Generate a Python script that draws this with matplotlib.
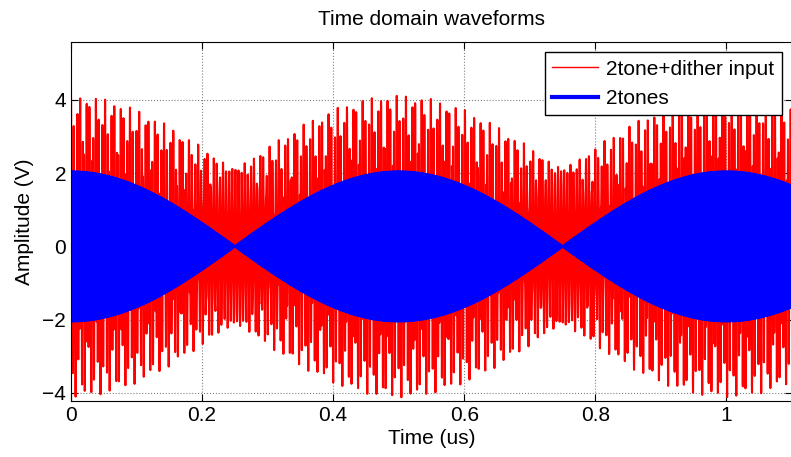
import numpy as np
import matplotlib.pyplot as plt

plt.rcParams['font.family'] = ['Liberation Sans', 'DejaVu Sans']

# signal parameters (time in us, freq in MHz)
T_END = 1.1
FS = 6000.0           # samples per us
F1, F2 = 499.0, 501.0 # two tones -> 2 MHz beat, nulls at 0.25 / 0.75 us
TONE_AMP = 1.02
DITHER_AMP = 2.08
DITHER_F = 211.3

t = np.arange(0, T_END, 1 / FS)
tones = TONE_AMP * (np.cos(2 * np.pi * F1 * t) + np.cos(2 * np.pi * F2 * t))
dither = DITHER_AMP * np.cos(2 * np.pi * DITHER_F * t)
noisy = tones + dither

xticks = [0, 0.2, 0.4, 0.6, 0.8, 1]
xtick_labels = ["0", "0.2", "0.4", "0.6", "0.8", "1"]
yticks = [-4, -2, 0, 2, 4]
ytick_labels = ["\u22124", "\u22122", "0", "2", "4"]

fig = plt.figure(figsize=(7.91, 4.57), dpi=100)
ax = fig.add_axes([71 / 791, 1 - 401 / 457, 721 / 791, 359 / 457])
ax.plot(t, noisy, color="red", lw=1.5, label="2tone+dither input")
ax.plot(t, tones, color="blue", lw=2, label="2tones")
ax.set_xlim(0, 1.1)
ax.set_ylim(-4.22, 5.58)
ax.set_xticks(xticks, xtick_labels)
ax.set_yticks(yticks, ytick_labels)
ax.tick_params(direction="in", top=True, right=True, labelsize=15, length=5)
ax.grid(True, ls=":", color="gray", lw=0.8)
ax.set_xlabel("Time (us)", fontsize=15, labelpad=3)
ax.set_ylabel("Amplitude (V)", fontsize=15, labelpad=6)
ax.set_title("Time domain waveforms", fontsize=15, pad=12)
leg = ax.legend(loc="upper right", fontsize=15, fancybox=False, framealpha=1,
                edgecolor="black", borderaxespad=0.5, handlelength=2.2,
                handletextpad=0.4, borderpad=0.35, labelspacing=0.5)
leg.get_frame().set_linewidth(1)
for line in leg.get_lines():
    line.set_linewidth(1.0 if line.get_color() == "red" else 3)
fig.savefig("out.png", dpi=100)
